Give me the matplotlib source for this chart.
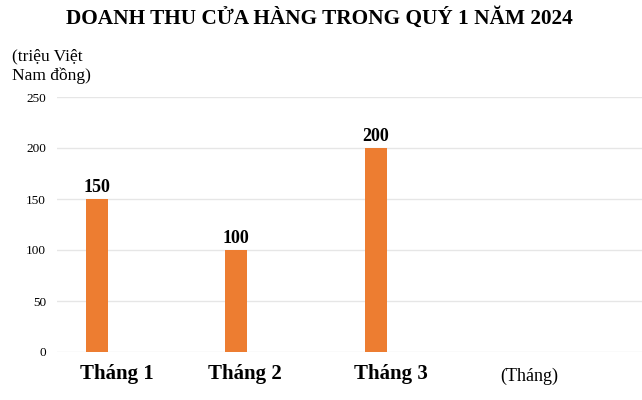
import matplotlib.pyplot as plt

# data
categories = ["Tháng 1", "Tháng 2", "Tháng 3"]
revenue = [150, 100, 200]
y_ticks = [0, 50, 100, 150, 200, 250]

plt.rcParams['font.family'] = ['Liberation Serif', 'DejaVu Serif']

fig = plt.figure(figsize=(6.42, 4.0), dpi=100)
ax = fig.add_axes([57 / 642, 1 - 352 / 400, 585 / 642, 255 / 400])

x = list(range(len(categories)))
bars = ax.bar(x, revenue, width=0.158, color="#ED7D31", zorder=3)

for xi, v in zip(x, revenue):
    ax.text(xi, v + 3, str(v), ha="center", va="bottom",
            fontsize=13, fontweight="bold")

ax.set_xlim(-0.287, 3.91)
ax.set_ylim(0, 250)
ax.set_yticks(y_ticks)
ax.tick_params(axis="y", length=0, labelsize=9.5, pad=8)
ax.set_xticks([])
ax.grid(axis="y", color="#e6e6e6", linewidth=1, zorder=0)
for s in ax.spines.values():
    s.set_visible(False)

# category labels (offset a bit to the right of the bars as in the original)
label_pos = [0.143, 1.06, 2.11]
for lp, c in zip(label_pos, categories):
    ax.text(lp, -22, c, ha="center", va="center", fontsize=15,
            fontweight="bold", clip_on=False)
ax.text(3.10, -24, "(Tháng)", ha="center", va="center", fontsize=13,
        clip_on=False)

fig.text(319 / 642, 1 - 18 / 400, "DOANH THU CỬA HÀNG TRONG QUÝ 1 NĂM 2024",
         ha="center", va="center", fontsize=15.3, fontweight="bold")
fig.text(12 / 642, 1 - 66 / 400, "(triệu Việt\nNam đồng)", ha="left",
         va="center", fontsize=12.5, linespacing=1.25)

fig.savefig("out.png", dpi=100)
